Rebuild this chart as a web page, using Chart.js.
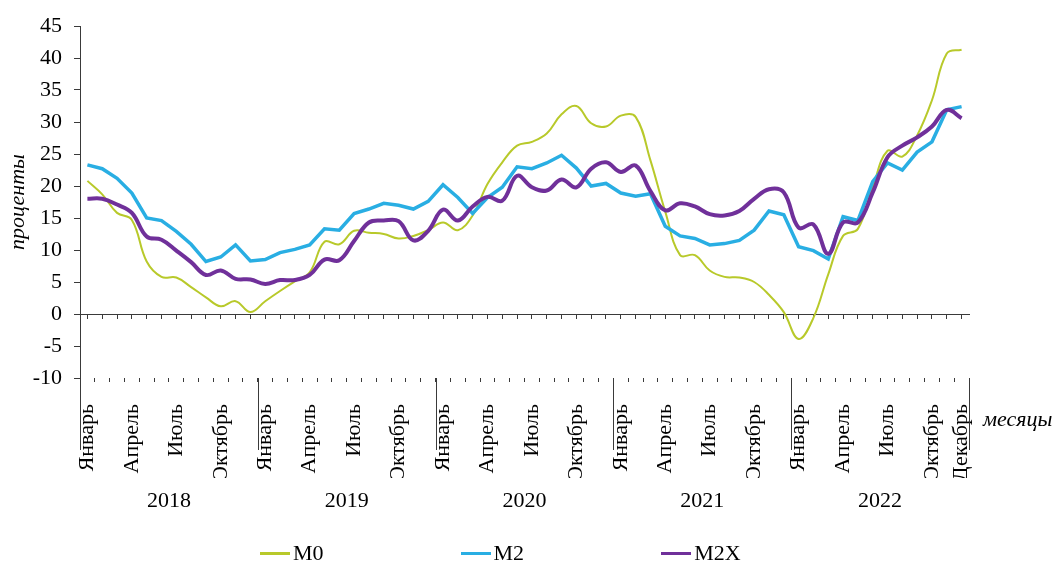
<!DOCTYPE html>
<html lang="ru">
<head>
<meta charset="utf-8">
<script src="https://cdn.jsdelivr.net/npm/chart.js@4.4.1/dist/chart.umd.min.js"></script>
<style>
    html, body { margin: 0; padding: 0; background: #fff; }
    #wrap { position: relative; width: 1059px; height: 562px; }
    #legend {
        position: absolute; left: 260px; top: 540px;
        display: flex; gap: 137px;
        font: 22px "Liberation Serif", "Times New Roman", serif; color: #000;
    }
    #legend .item { display: flex; align-items: center; }
    #legend .swatch { width: 30px; height: 3px; margin-right: 3px; }
</style>
</head>
<body>
<div id="wrap">
    <canvas id="moneyChart" width="1059" height="562"></canvas>
    <div id="legend"></div>
</div>
<script>
// Monthly data, Jan 2018 - Dec 2022 (percent, y/y)
const years = ['2018', '2019', '2020', '2021', '2022'];
const monthNames = ['Январь', 'Февраль', 'Март', 'Апрель', 'Май', 'Июнь',
    'Июль', 'Август', 'Сентябрь', 'Октябрь', 'Ноябрь', 'Декабрь'];

const m0 = [
    20.8, 18.7, 15.8, 14.7, 8.2, 5.8, 5.7, 4.2, 2.6, 1.2, 2.0, 0.3,
    2.0, 3.6, 5.1, 6.5, 11.3, 10.9, 13.0, 12.7, 12.5, 11.8, 12.2, 13.1,
    14.3, 13.1, 15.4, 20.3, 23.7, 26.3, 26.9, 28.2, 31.2, 32.5, 29.8, 29.3,
    31.0, 30.8, 24.0, 16.0, 9.2, 9.2, 6.8, 5.8, 5.7, 5.0, 3.0, 0.3,
    -3.9, -0.6, 6.2, 12.2, 13.3, 19.8, 25.5, 24.6, 27.9, 33.4, 40.7, 41.3
];
const m2 = [
    23.3, 22.7, 21.2, 18.9, 15.0, 14.6, 12.9, 10.9, 8.2, 8.9, 10.8, 8.3,
    8.5, 9.6, 10.1, 10.8, 13.3, 13.1, 15.7, 16.4, 17.3, 17.0, 16.4, 17.6,
    20.2, 18.2, 15.7, 18.2, 19.8, 23.0, 22.7, 23.6, 24.8, 22.8, 20.0, 20.4,
    18.9, 18.4, 18.8, 13.7, 12.2, 11.8, 10.8, 11.0, 11.5, 13.1, 16.1, 15.5,
    10.5, 9.9, 8.6, 15.2, 14.6, 20.7, 23.6, 22.5, 25.3, 26.9, 31.9, 32.4
];
const m2x = [
    18.0, 18.0, 17.1, 15.8, 12.1, 11.6, 9.9, 8.1, 6.1, 6.8, 5.5, 5.4,
    4.7, 5.3, 5.3, 6.1, 8.5, 8.4, 11.4, 14.3, 14.6, 14.5, 11.5, 13.0,
    16.3, 14.6, 16.8, 18.3, 17.7, 21.6, 19.8, 19.3, 21.0, 19.8, 22.7, 23.7,
    22.2, 23.2, 19.2, 16.2, 17.3, 16.8, 15.6, 15.4, 16.1, 18.0, 19.5, 19.0,
    13.5, 14.0, 9.4, 14.3, 14.3, 19.0, 24.5, 26.3, 27.6, 29.3, 31.9, 30.6
];

const labels = years.flatMap(() => monthNames);

const FONT = '"Liberation Serif", "Times New Roman", serif';
const AXIS = '#3a3a3a';

// year separators, year captions and the "месяцы" caption under the x axis
const yearAxis = {
    id: 'yearAxis',
    afterDraw(chart) {
        const x = chart.scales.x;
        const ctx = chart.ctx;
        const bottom = chart.chartArea.bottom;
        const half = (x.getPixelForValue(1) - x.getPixelForValue(0)) / 2;
        ctx.save();
        ctx.strokeStyle = AXIS;
        ctx.lineWidth = 1;
        for (let k = 0; k <= years.length; k++) {
            const px = Math.round(x.getPixelForValue(k * 12) - half) + 0.5;
            ctx.beginPath();
            ctx.moveTo(px, bottom);
            ctx.lineTo(px, bottom + 72);
            ctx.stroke();
        }
        ctx.fillStyle = '#000';
        ctx.font = '22px ' + FONT;
        ctx.textAlign = 'center';
        ctx.textBaseline = 'middle';
        years.forEach((y, k) => {
            const px = (x.getPixelForValue(k * 12 + 5) + x.getPixelForValue(k * 12 + 6)) / 2;
            ctx.fillText(y, px, 501);
        });
        ctx.font = 'italic 22px ' + FONT;
        ctx.textAlign = 'left';
        ctx.fillText('месяцы', 983, 420);
        ctx.restore();
    }
};

const ctx = document.getElementById('moneyChart').getContext('2d');
const chart = new Chart(ctx, {
    type: 'line',
    data: {
        labels: labels,
        datasets: [
            {
                label: 'M0',
                data: m0,
                borderColor: '#b8c92a',
                backgroundColor: '#b8c92a',
                borderWidth: 2,
                tension: 0.4,
                pointRadius: 0,
                order: 3
            },
            {
                label: 'M2',
                data: m2,
                borderColor: '#29aee3',
                backgroundColor: '#29aee3',
                borderWidth: 3.5,
                tension: 0,
                pointRadius: 0,
                order: 2
            },
            {
                label: 'M2X',
                data: m2x,
                borderColor: '#70309a',
                backgroundColor: '#70309a',
                borderWidth: 4,
                tension: 0.4,
                pointRadius: 0,
                order: 1
            }
        ]
    },
    options: {
        responsive: false,
        animation: false,
        layout: { padding: { top: 26, right: 90, bottom: 84, left: 0 } },
        plugins: {
            legend: { display: false },
            tooltip: { enabled: false }
        },
        scales: {
            x: {
                type: 'category',
                position: 'bottom',
                offset: true,
                border: { display: false },
                grid: { offset: true, drawOnChartArea: false, tickLength: 4, color: AXIS },
                ticks: {
                    autoSkip: false,
                    minRotation: 90,
                    maxRotation: 90,
                    padding: 22,
                    color: '#000',
                    font: { family: FONT, size: 22 },
                    callback: (value, index) =>
                        (index % 3 === 0 || index === labels.length - 1) ? labels[index] : ''
                },
                afterFit: (scale) => { scale.height = 100; }
            },
            zero: {
                type: 'category',
                axis: 'x',
                position: { y: 0 },
                offset: true,
                border: { display: true, color: AXIS, width: 1 },
                grid: { offset: false, drawOnChartArea: false, tickLength: 4, color: AXIS },
                ticks: { display: false, autoSkip: false }
            },
            y: {
                min: -10,
                max: 45,
                border: { display: true, color: AXIS, width: 1 },
                grid: { drawOnChartArea: false, tickLength: 6, color: AXIS },
                ticks: {
                    stepSize: 5,
                    padding: 12,
                    color: '#000',
                    font: { family: FONT, size: 22 }
                },
                title: {
                    display: true,
                    text: 'проценты',
                    color: '#000',
                    padding: { top: 5, bottom: 0 },
                    font: { family: FONT, size: 22, style: 'italic' }
                },
                afterFit: (scale) => { scale.width = 80; }
            }
        }
    },
    plugins: [yearAxis]
});

// html legend built from the chart datasets
const legendBox = document.getElementById('legend');
chart.data.datasets.forEach((ds) => {
    const item = document.createElement('div');
    item.className = 'item';
    const sw = document.createElement('span');
    sw.className = 'swatch';
    sw.style.background = ds.borderColor;
    const txt = document.createElement('span');
    txt.textContent = ds.label;
    item.appendChild(sw);
    item.appendChild(txt);
    legendBox.appendChild(item);
});
</script>
</body>
</html>
